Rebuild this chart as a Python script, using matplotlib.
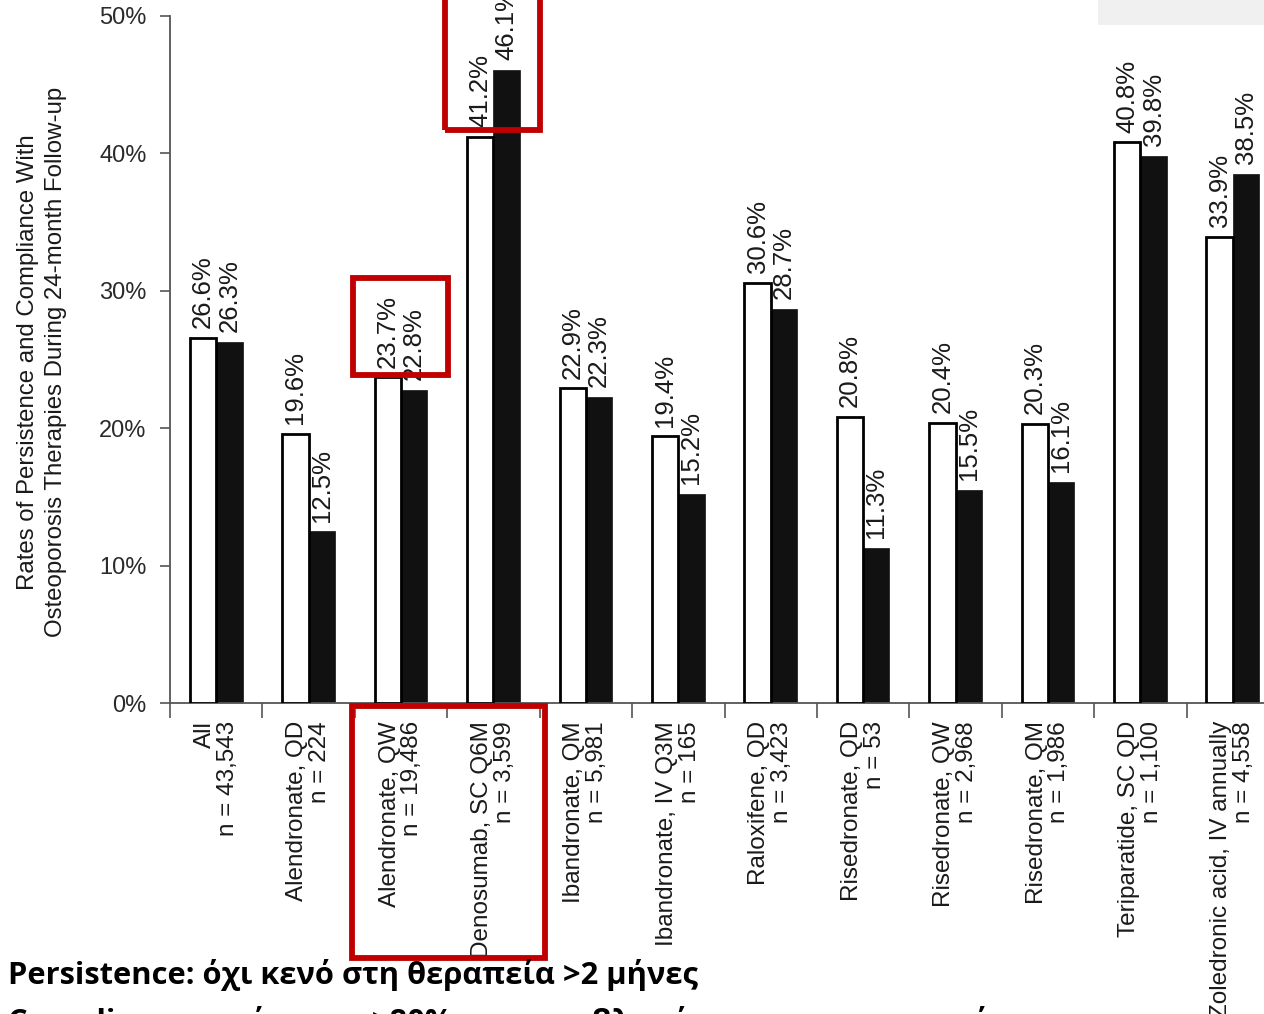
import numpy as np
import matplotlib
matplotlib.use("Agg")
import matplotlib.pyplot as plt
from matplotlib.patches import Rectangle
from matplotlib.transforms import blended_transform_factory

plt.rcParams['font.family'] = ['Liberation Sans', 'DejaVu Sans']

# Therapies, cohort sizes and 24-month rates (%)
therapies = ["All", "Alendronate, QD", "Alendronate, QW", "Denosumab, SC Q6M",
             "Ibandronate, QM", "Ibandronate, IV Q3M", "Raloxifene, QD",
             "Risedronate, QD", "Risedronate, QW", "Risedronate, QM",
             "Teriparatide, SC QD", "Zoledronic acid, IV annually"]
n_patients = ["43,543", "224", "19,486", "3,599", "5,981", "165", "3,423",
              "53", "2,968", "1,986", "1,100", "4,558"]
persistence = [26.6, 19.6, 23.7, 41.2, 22.9, 19.4, 30.6, 20.8, 20.4, 20.3, 40.8, 33.9]
compliance = [26.3, 12.5, 22.8, 46.1, 22.3, 15.2, 28.7, 11.3, 15.5, 16.1, 39.8, 38.5]
y_ticks = [0, 10, 20, 30, 40, 50]

# Highlighted groups: value-label boxes (group index, lower %, upper %)
label_boxes = [(2, 23.9, 30.9), (3, 41.7, 53.0)]
# Highlighted tick-label block spans these groups
tick_box_groups = (2, 3)

note_lines = ["Persistence: όχι κενό στη θεραπεία >2 μήνες",
              "Compliance: απόκτηση >80% των προβλεπόμενων συσκευασιών"]

W, H = 1264, 1014
fig = plt.figure(figsize=(W / 100, H / 100), dpi=100)
fig.patch.set_facecolor("white")

ax_left, ax_right, ax_top, ax_bottom = 170, 1279, 16, 703
ax = fig.add_axes([ax_left / W, 1 - ax_bottom / H,
                   (ax_right - ax_left) / W, (ax_bottom - ax_top) / H])

x = np.arange(len(therapies))
bw = 0.285
ax.bar(x - bw / 2, persistence, width=bw, color="white", edgecolor="black",
       linewidth=2.0, zorder=3)
ax.bar(x + bw / 2, compliance, width=bw, color="#111111", edgecolor="#111111",
       linewidth=0.5, zorder=2)

label_fs = 18.5
for xs, vals in ((x - bw / 2, persistence), (x + bw / 2, compliance)):
    for xi, v in zip(xs, vals):
        ax.annotate(f"{v:.1f}%", (xi, v), xytext=(0, 7),
                    textcoords="offset points", rotation=90, ha="center",
                    va="bottom", fontsize=label_fs, color="#1a1a1a",
                    annotation_clip=False)

ax.set_xlim(-0.475, 11.5)
ax.set_ylim(0, 50)
ax.set_yticks(y_ticks)
ax.set_yticklabels([f"{t}%" for t in y_ticks], fontsize=17, color="#2a2a2a")
ax.tick_params(axis="y", length=7, width=1.2, color="#555555", pad=10)

ax.set_xticks(x)
ax.set_xticklabels([f"{t}\nn = {n}" for t, n in zip(therapies, n_patients)],
                   rotation=90, ha="center", va="top", fontsize=17.5,
                   color="#1a1a1a", multialignment="right", linespacing=1.05)
ax.tick_params(axis="x", which="major", length=0, pad=13)
ax.set_xticks(np.arange(-0.5, len(therapies)), minor=True)
ax.tick_params(axis="x", which="minor", length=11, width=1.2, color="#555555")

for s in ("top", "right"):
    ax.spines[s].set_visible(False)
for s in ("left", "bottom"):
    ax.spines[s].set_color("#555555")
    ax.spines[s].set_linewidth(1.3)

fig.text(42 / W, 1 - 362 / H,
         "Rates of Persistence and Compliance With\n"
         "Osteoporosis Therapies During 24-month Follow-up",
         rotation=90, ha="center", va="center", fontsize=17.3,
         color="#1a1a1a", multialignment="center", linespacing=1.3)

# Red highlight frames
red = "#c00000"
for gi, lo, hi in label_boxes:
    ax.add_patch(Rectangle((gi - 0.525, lo), 1.03, hi - lo, fill=False,
                           edgecolor=red, linewidth=4.2, zorder=5,
                           clip_on=False))
bt = blended_transform_factory(ax.transData, ax.transAxes)
g0, g1 = tick_box_groups
ax.add_patch(Rectangle((g0 - 0.53, -0.371), (g1 - g0) + 1.09, 0.371 - 0.005,
                       transform=bt, fill=False, edgecolor=red, linewidth=4.2,
                       zorder=5, clip_on=False))

# Grey panel at the top right
fig.patches.append(Rectangle((1098 / W, 1 - 25 / H), (W - 1098) / W, 25 / H,
                             transform=fig.transFigure, facecolor="#f0f0f0",
                             edgecolor="none", zorder=0))

# Definitions below the chart
note_font = ["Open Sans", "Noto Sans", "DejaVu Sans"]
fig.text(8 / W, 1 - 984 / H, note_lines[0], ha="left", va="baseline",
         fontsize=22.2, fontweight="bold", color="black", family=note_font)
fig.text(8 / W, 1 - 1031 / H, note_lines[1], ha="left", va="baseline",
         fontsize=22.2, fontweight="bold", color="black", family=note_font)

fig.savefig("out.png", dpi=100)
